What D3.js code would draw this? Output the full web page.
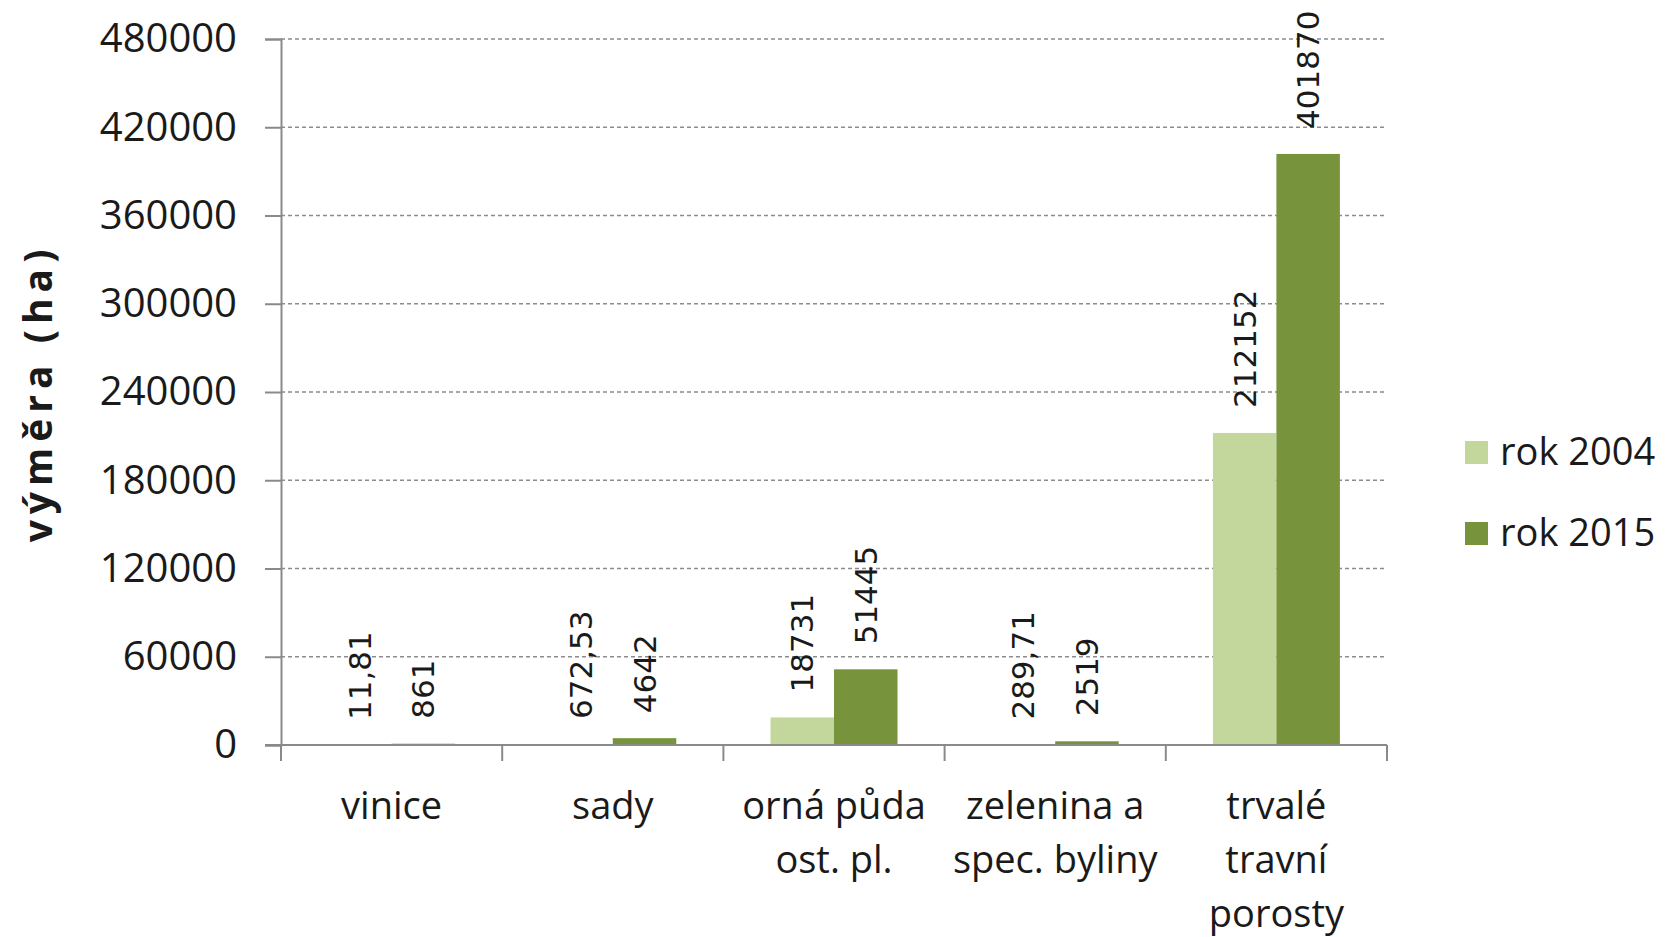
<!DOCTYPE html>
<html>
<head>
<meta charset="utf-8">
<script src="https://cdn.jsdelivr.net/npm/d3@7"></script>
<style>
  body { margin: 0; background: #fff; }
  text { fill: #1a1a1a; }
</style>
</head>
<body>
<div id="chart"></div>
<script>
// data
var categories = ["vinice", "sady", "orná půda ost. pl.", "zelenina a spec. byliny", "trvalé travní porosty"];
var catLines = [["vinice"], ["sady"], ["orná půda", "ost. pl."], ["zelenina a", "spec. byliny"], ["trvalé", "travní", "porosty"]];
var series = ["rok 2004", "rok 2015"];
var values2004 = [11.81, 672.53, 18731, 289.71, 212152];
var values2015 = [861, 4642, 51445, 2519, 401870];
var labels2004 = ["11,81", "672,53", "18731", "289,71", "212152"];
var labels2015 = ["861", "4642", "51445", "2519", "401870"];
var yTicks = [0, 60000, 120000, 180000, 240000, 300000, 360000, 420000, 480000];
var colors = ["#c3d69b", "#77933c"];

var width = 1667, height = 937;
var plotLeft = 281, plotRight = 1387, plotTop = 39, plotBottom = 745;

var svg = d3.select("#chart").append("svg")
  .attr("width", width)
  .attr("height", height);

var x0 = d3.scaleBand().domain(categories).range([plotLeft, plotRight]).padding(0);
var x1 = d3.scaleBand().domain(series).range([0, x0.bandwidth()]).paddingInner(0).paddingOuter(0.742);
var y = d3.scaleLinear().domain([0, 480000]).range([plotBottom, plotTop]);

// gridlines (dashed)
svg.append("g").selectAll("line")
  .data(yTicks.slice(1))
  .enter().append("line")
  .attr("x1", plotLeft).attr("x2", plotRight)
  .attr("y1", function (d) { return y(d) })
  .attr("y2", function (d) { return y(d) })
  .attr("stroke", "#8c8c8c")
  .attr("stroke-width", 1.3)
  .attr("stroke-dasharray", "4,3");

// y axis
var yAxis = svg.append("g")
  .attr("transform", "translate(" + plotLeft + ",0)")
  .call(d3.axisLeft(y).tickValues(yTicks).tickSize(16).tickPadding(28).tickFormat(d3.format("d")));
yAxis.selectAll("path, line").attr("stroke", "#8a8a8a").attr("stroke-width", 2);
yAxis.selectAll("text")
  .style("font-family", "'Open Sans', sans-serif")
  .style("font-size", "40px")
  .attr("fill", "#1a1a1a");

// bars
var rows = categories.map(function (c, i) {
  return [
    { cat: c, s: series[0], v: values2004[i], label: labels2004[i] },
    { cat: c, s: series[1], v: values2015[i], label: labels2015[i] }
  ];
});

var groups = svg.append("g").selectAll("g")
  .data(rows)
  .enter().append("g")
  .attr("transform", function (d) { return "translate(" + x0(d[0].cat) + ",0)" });

groups.selectAll("rect")
  .data(function (d) { return d })
  .enter().append("rect")
  .attr("x", function (d) { return x1(d.s) })
  .attr("width", x1.bandwidth())
  .attr("y", function (d) { return y(d.v) })
  .attr("height", function (d) { return plotBottom - y(d.v) })
  .attr("fill", function (d, i) { return colors[i] });

// rotated value labels
groups.selectAll("text")
  .data(function (d) { return d })
  .enter().append("text")
  .attr("transform", function (d) {
    return "translate(" + (x1(d.s) + x1.bandwidth() / 2) + "," + (y(d.v) - 25) + ") rotate(-90)"
  })
  .attr("dominant-baseline", "central")
  .style("font-family", "'DejaVu Sans', sans-serif")
  .style("font-size", "31px")
  .text(function (d) { return d.label });

// x axis line + ticks at category boundaries
svg.append("line")
  .attr("x1", plotLeft - 16).attr("x2", plotRight)
  .attr("y1", plotBottom).attr("y2", plotBottom)
  .attr("stroke", "#8a8a8a").attr("stroke-width", 2);

var bounds = categories.map(function (c) { return x0(c) }).concat([plotRight]);
svg.append("g").selectAll("line")
  .data(bounds)
  .enter().append("line")
  .attr("x1", function (d) { return d }).attr("x2", function (d) { return d })
  .attr("y1", plotBottom).attr("y2", plotBottom + 16)
  .attr("stroke", "#8a8a8a").attr("stroke-width", 2);

// category labels
var catText = svg.append("g").selectAll("text")
  .data(categories)
  .enter().append("text")
  .attr("text-anchor", "middle")
  .style("font-family", "'Open Sans', sans-serif")
  .style("font-size", "38px");

catText.selectAll("tspan")
  .data(function (d, i) { return catLines[i].map(function (l) { return { c: d, l: l } }) })
  .enter().append("tspan")
  .attr("x", function (d) { return x0(d.c) + x0.bandwidth() / 2 })
  .attr("y", function (d, i) { return 819 + i * 54 })
  .text(function (d) { return d.l });

// y title
svg.append("text")
  .attr("transform", "translate(52,393) rotate(-90)")
  .attr("text-anchor", "middle")
  .style("font-family", "'Open Sans', sans-serif")
  .style("font-weight", "bold")
  .style("font-size", "39px")
  .style("letter-spacing", "6px")
  .text("výměra (ha)");

// legend
var legend = svg.append("g").selectAll("g")
  .data(series)
  .enter().append("g")
  .attr("transform", function (d, i) { return "translate(1465," + (441 + i * 81) + ")" });

legend.append("rect")
  .attr("width", 23).attr("height", 23)
  .attr("fill", function (d, i) { return colors[i] });

legend.append("text")
  .attr("x", 35).attr("y", 24)
  .style("font-family", "'Open Sans', sans-serif")
  .style("font-size", "38px")
  .text(function (d) { return d });
</script>
</body>
</html>
